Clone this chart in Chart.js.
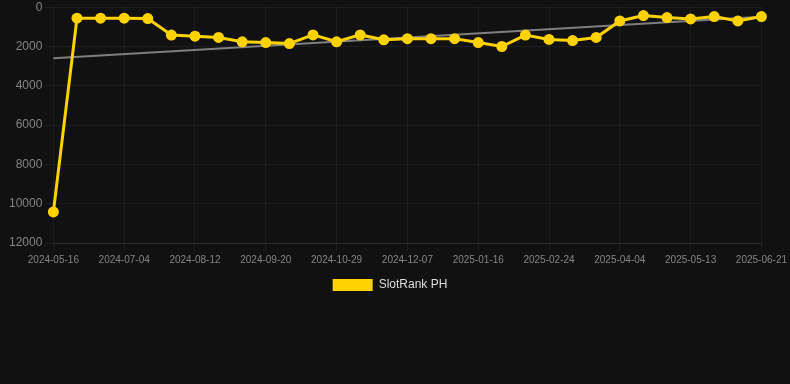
<!DOCTYPE html>
<html>
<head>
<meta charset="utf-8">
<script src="https://cdn.jsdelivr.net/npm/chart.js@4/dist/chart.umd.min.js"></script>
<style>
  html, body { margin: 0; padding: 0; background: #111111; }
  #wrap { position: relative; width: 790px; height: 304px; margin-top: -3px; }
</style>
</head>
<body>
<div id="wrap"><canvas id="rankChart"></canvas></div>
<script>
'use strict';
// dates (only every 3rd one is shown on the axis)
var dates = [
  "2024-05-16", "2024-06-01", "2024-06-18", "2024-07-04", "2024-07-17", "2024-07-30",
  "2024-08-12", "2024-08-25", "2024-09-07", "2024-09-20", "2024-10-03", "2024-10-16",
  "2024-10-29", "2024-11-11", "2024-11-24", "2024-12-07", "2024-12-20", "2025-01-03",
  "2025-01-16", "2025-01-29", "2025-02-11", "2025-02-24", "2025-03-09", "2025-03-22",
  "2025-04-04", "2025-04-17", "2025-04-30", "2025-05-13", "2025-05-26", "2025-06-08",
  "2025-06-21"
];
var ranks = [
  10420, 560, 560, 560, 580, 1420, 1475, 1540, 1760, 1800, 1850, 1410, 1760, 1410, 1660,
  1600, 1600, 1600, 1800, 2000, 1420, 1640, 1700, 1540, 700, 425, 525, 595, 475, 700, 475
];
var trendEnds = [2600, 490];
var yTicks = [0, 2000, 4000, 6000, 8000, 10000, 12000];

var trend = dates.map(function (d, i) {
  if (i === 0) return trendEnds[0];
  if (i === dates.length - 1) return trendEnds[1];
  return null;
});

// nudge the legend a bit to the left, like the original
var legendShift = {
  id: "legendShift",
  afterLayout: function (chart) {
    chart.legend.left -= 7;
    chart.legend.right -= 7;
  }
};

new Chart("rankChart", {
  type: "line",
  data: {
    labels: dates,
    datasets: [{
      label: "SlotRank PH",
      data: ranks,
      borderColor: "#ffd200",
      backgroundColor: "#ffd200",
      borderWidth: 3,
      pointRadius: 4,
      pointHoverRadius: 4,
      tension: 0
    }, {
      label: "trend",
      data: trend,
      spanGaps: true,
      borderColor: "rgba(140,140,140,0.9)",
      borderWidth: 2,
      pointRadius: 0,
      tension: 0
    }]
  },
  plugins: [legendShift],
  options: {
    responsive: true,
    maintainAspectRatio: false,
    animation: false,
    layout: { padding: { left: 6, right: 2 } },
    scales: {
      x: {
        grid: { color: "rgba(255,255,255,0.05)" },
        border: { color: "rgba(255,255,255,0.08)" },
        ticks: {
          autoSkip: false,
          maxRotation: 0,
          color: "#858585",
          font: { family: "Arial, 'Liberation Sans'", size: 10 },
          callback: function (v, i) { return i % 3 === 0 ? dates[i] : null; }
        }
      },
      y: {
        reverse: true,
        min: 0,
        max: 12000,
        afterBuildTicks: function (ax) { ax.ticks = yTicks.map(function (v) { return { value: v }; }); },
        grid: { color: "rgba(255,255,255,0.05)" },
        border: { display: false },
        ticks: {
          color: "#858585",
          font: { family: "Arial, 'Liberation Sans'", size: 12 },
          callback: function (v) { return String(v); }
        }
      }
    },
    plugins: {
      tooltip: { enabled: false },
      legend: {
        position: "bottom",
        labels: {
          color: "#dddddd",
          boxWidth: 40,
          boxHeight: 12,
          font: { family: "Arial, 'Liberation Sans'", size: 12 },
          filter: function (item) { return item.text !== "trend"; },
          generateLabels: function (chart) {
            var items = Chart.defaults.plugins.legend.labels.generateLabels(chart);
            items.forEach(function (it) { it.lineWidth = 0; });
            return items;
          }
        }
      }
    }
  }
});
</script>
</body>
</html>
